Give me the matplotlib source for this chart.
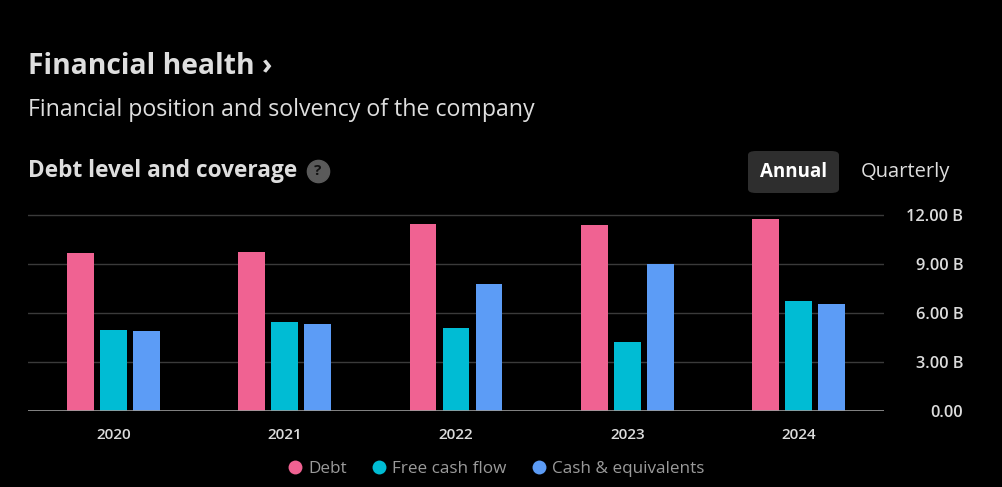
import numpy as np
import matplotlib
matplotlib.use("Agg")
import matplotlib.pyplot as plt
from matplotlib.lines import Line2D
from matplotlib.patches import FancyBboxPatch

# values in billions
years = ["2020", "2021", "2022", "2023", "2024"]
debt = [9.67, 9.73, 11.45, 11.39, 11.76]
free_cash_flow = [4.96, 5.45, 5.08, 4.23, 6.74]
cash_equiv = [4.92, 5.35, 7.78, 9.00, 6.57]
series_names = ["Debt", "Free cash flow", "Cash & equivalents"]
colors = ["#f06292", "#00bcd4", "#5c9cf6"]
yticks = [0, 3, 6, 9, 12]
ytick_labels = ["0.00", "3.00 B", "6.00 B", "9.00 B", "12.00 B"]

plt.rcParams['font.family'] = ['Open Sans', 'DejaVu Sans']

W, H = 1003, 487
fig = plt.figure(figsize=(W / 100, H / 100), dpi=100, facecolor="black")

def fx(px):
    return px / W

def fy(py):
    return 1 - py / H

# axes: x -0.5..4.5 spans px 28..884, y 0 at px 411, 16.33 px per billion
ymax = 12.5
ax = fig.add_axes([fx(28), fy(411), fx(884) - fx(28), ymax * 16.33 / H])
ax.set_facecolor("black")

x = np.arange(len(years))
w = 0.156
step = 0.193
for i, (vals, c) in enumerate(zip([debt, free_cash_flow, cash_equiv], colors)):
    ax.bar(x + (i - 1) * step, vals, width=w, color=c, zorder=3)

ax.set_xlim(-0.5, 4.5)
ax.set_ylim(0, ymax)
for t in yticks[1:]:
    ax.axhline(t, color="#3a3a3a", lw=1, zorder=1)
ax.axhline(0, color="#9a9a9a", lw=1.2, zorder=4)

for s in ax.spines.values():
    s.set_visible(False)

ax.set_xticks(x)
ax.set_xticklabels(years)
ax.tick_params(axis="x", length=0, pad=12, labelsize=11, labelcolor="#dcdcdc")
for lab in ax.get_xticklabels():
    lab.set_fontweight("semibold")

ax.yaxis.tick_right()
ax.set_yticks(yticks)
ax.set_yticklabels(ytick_labels)
ax.tick_params(axis="y", length=0, pad=57, labelsize=11.8, labelcolor="#dcdcdc")
for lab in ax.get_yticklabels():
    lab.set_horizontalalignment("right")
    lab.set_fontweight("semibold")

# header texts
fig.text(fx(28), fy(67), "Financial health \u203a", fontsize=20.3, fontweight="bold",
         color="#dedede", va="center", ha="left")
fig.text(fx(28), fy(110), "Financial position and solvency of the company", fontsize=16.7,
         color="#dedede", va="center", ha="left")
fig.text(fx(28), fy(171), "Debt level and coverage", fontsize=16.3, fontweight="bold",
         color="#dedede", va="center", ha="left")
fig.add_artist(Line2D([fx(318)], [fy(171)], marker="o", markersize=16,
                      color="#5a5a5a", transform=fig.transFigure))
fig.text(fx(318), fy(171), "?", fontsize=11, fontweight="bold", color="#111111",
         ha="center", va="center")

# Annual / Quarterly toggle
fig.add_artist(FancyBboxPatch((fx(748), fy(193)), fx(839) - fx(748), fy(151) - fy(193),
                              boxstyle="round,pad=0,rounding_size=0.008",
                              transform=fig.transFigure, facecolor="#2e2e2e",
                              edgecolor="none"))
fig.text(fx(794), fy(172), "Annual", fontsize=13.5, fontweight="bold", color="#ffffff",
         ha="center", va="center")
fig.text(fx(905), fy(172), "Quarterly", fontsize=14.5, color="#dedede",
         ha="center", va="center")

handles = [Line2D([0], [0], marker="o", color="none", markerfacecolor=c,
                  markeredgecolor="none", markersize=10, label=n)
           for n, c in zip(series_names, colors)]
leg = fig.legend(handles=handles, loc="center", bbox_to_anchor=(fx(497), fy(469)),
                 ncol=3, frameon=False, fontsize=12.3, handlelength=0.6,
                 handletextpad=0.45, columnspacing=1.6)
for t in leg.get_texts():
    t.set_color("#9a9a9a")

fig.savefig("out.png", dpi=100, facecolor="black")
